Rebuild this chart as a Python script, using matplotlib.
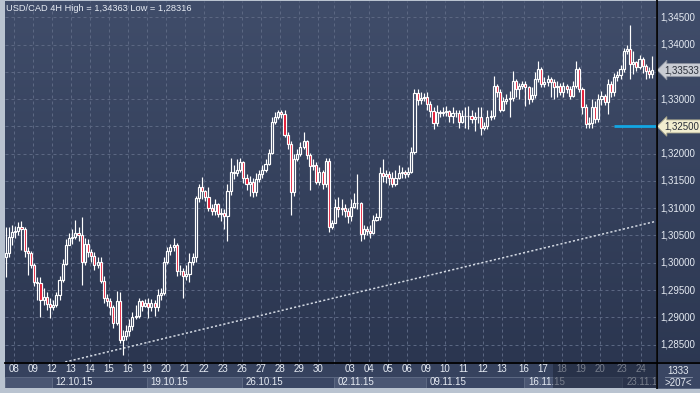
import numpy as np
import matplotlib
matplotlib.use("Agg")
import matplotlib.pyplot as plt
from matplotlib.colors import LinearSegmentedColormap
from matplotlib.patches import Rectangle

plt.rcParams['font.family'] = ['Liberation Sans', 'DejaVu Sans']

# ---- values (USD/CAD, 4H bars) ----
first_open = 1.3011
closes = [
    1.3017, 1.3048, 1.3057, 1.3059, 1.3065, 1.3061, 1.3021, 1.3017, 1.2996, 1.2965,
    1.2962, 1.2931, 1.2938, 1.2925, 1.2919, 1.2923, 1.2940, 1.2969, 1.2998, 1.3033,
    1.3045, 1.3048, 1.3054, 1.3050, 1.3002, 1.3035, 1.3019, 1.3013, 1.2996, 1.3002,
    1.2967, 1.2936, 1.2929, 1.2918, 1.2890, 1.2929, 1.2859, 1.2866, 1.2875, 1.2884,
    1.2901, 1.2903, 1.2929, 1.2921, 1.2927, 1.2919, 1.2927, 1.2918, 1.2940, 1.2945,
    1.3002, 1.3021, 1.3028, 1.3033, 1.2984, 1.2985, 1.2975, 1.2980, 1.3002, 1.3010,
    1.3118, 1.3138, 1.3131, 1.3121, 1.3101, 1.3094, 1.3107, 1.3090, 1.3092, 1.3085,
    1.3131, 1.3167, 1.3164, 1.3171, 1.3184, 1.3156, 1.3144, 1.3149, 1.3129, 1.3153,
    1.3162, 1.3171, 1.3182, 1.3202, 1.3259, 1.3267, 1.3276, 1.3272, 1.3235, 1.3217,
    1.3129, 1.3190, 1.3199, 1.3212, 1.3223, 1.3197, 1.3177, 1.3179, 1.3149, 1.3167,
    1.3144, 1.3186, 1.3066, 1.3072, 1.3103, 1.3098, 1.3101, 1.3094, 1.3085, 1.3103,
    1.3110, 1.3109, 1.3052, 1.3061, 1.3059, 1.3055, 1.3079, 1.3083, 1.3164, 1.3160,
    1.3162, 1.3156, 1.3145, 1.3156, 1.3164, 1.3166, 1.3162, 1.3167, 1.3204, 1.3311,
    1.3298, 1.3302, 1.3304, 1.3291, 1.3278, 1.3256, 1.3276, 1.3274, 1.3276, 1.3278,
    1.3269, 1.3274, 1.3274, 1.3259, 1.3269, 1.3270, 1.3269, 1.3263, 1.3267, 1.3267,
    1.3247, 1.3250, 1.3267, 1.3269, 1.3324, 1.3313, 1.3281, 1.3296, 1.3300, 1.3302,
    1.3333, 1.3318, 1.3324, 1.3327, 1.3322, 1.3300, 1.3307, 1.3337, 1.3355, 1.3327,
    1.3331, 1.3337, 1.3331, 1.3322, 1.3325, 1.3313, 1.3324, 1.3318, 1.3305, 1.3324,
    1.3355, 1.3318, 1.3285, 1.3254, 1.3256, 1.3285, 1.3263, 1.3300, 1.3305, 1.3294,
    1.3327, 1.3313, 1.3340, 1.3344, 1.3355, 1.3388, 1.3392, 1.3364, 1.3368, 1.3359,
    1.3373, 1.3360, 1.3351, 1.3346, 1.33533,
]
highs = [
    1.3065, 1.3065, 1.3070, 1.3068, 1.3074, 1.3076, 1.3065, 1.3028, 1.3021, 1.3000,
    1.2973, 1.2973, 1.2954, 1.2947, 1.2936, 1.2932, 1.2947, 1.2976, 1.3006, 1.3043,
    1.3054, 1.3061, 1.3079, 1.3065, 1.3083, 1.3046, 1.3043, 1.3026, 1.3019, 1.3011,
    1.3010, 1.2975, 1.2943, 1.2936, 1.2923, 1.2949, 1.2947, 1.2877, 1.2886, 1.2896,
    1.2910, 1.2923, 1.2936, 1.2932, 1.2934, 1.2936, 1.2934, 1.2931, 1.2951, 1.2954,
    1.3010, 1.3028, 1.3035, 1.3046, 1.3037, 1.2995, 1.2991, 1.2996, 1.3017, 1.3017,
    1.3123, 1.3144, 1.3158, 1.3134, 1.3138, 1.3107, 1.3116, 1.3109, 1.3101, 1.3098,
    1.3144, 1.3193, 1.3180, 1.3190, 1.3193, 1.3186, 1.3162, 1.3160, 1.3155, 1.3164,
    1.3171, 1.3179, 1.3190, 1.3208, 1.3267, 1.3276, 1.3281, 1.3281, 1.3280, 1.3239,
    1.3223, 1.3199, 1.3208, 1.3221, 1.3239, 1.3226, 1.3202, 1.3190, 1.3184, 1.3175,
    1.3171, 1.3193, 1.3193, 1.3079, 1.3116, 1.3120, 1.3116, 1.3107, 1.3101, 1.3116,
    1.3127, 1.3162, 1.3112, 1.3070, 1.3068, 1.3070, 1.3088, 1.3092, 1.3175, 1.3190,
    1.3171, 1.3169, 1.3167, 1.3171, 1.3179, 1.3175, 1.3171, 1.3175, 1.3212, 1.3318,
    1.3318, 1.3313, 1.3311, 1.3313, 1.3296, 1.3285, 1.3289, 1.3281, 1.3285, 1.3287,
    1.3281, 1.3285, 1.3281, 1.3280, 1.3281, 1.3285, 1.3287, 1.3281, 1.3276, 1.3285,
    1.3285, 1.3259, 1.3281, 1.3281, 1.3342, 1.3327, 1.3318, 1.3304, 1.3309, 1.3315,
    1.3351, 1.3337, 1.3329, 1.3333, 1.3333, 1.3325, 1.3322, 1.3349, 1.3370, 1.3359,
    1.3340, 1.3344, 1.3340, 1.3337, 1.3333, 1.3329, 1.3331, 1.3327, 1.3325, 1.3333,
    1.3370, 1.3359, 1.3322, 1.3291, 1.3267, 1.3300, 1.3296, 1.3309, 1.3315, 1.3309,
    1.3337, 1.3333, 1.3348, 1.3351, 1.3362, 1.3394, 1.3399, 1.34363, 1.3388, 1.3370,
    1.3381, 1.3377, 1.3364, 1.3359, 1.3379,
]
lows = [
    1.2973, 1.3011, 1.3033, 1.3046, 1.3050, 1.3024, 1.3010, 1.2978, 1.2991, 1.2958,
    1.2932, 1.2901, 1.2923, 1.2914, 1.2899, 1.2914, 1.2918, 1.2932, 1.2964, 1.2995,
    1.3032, 1.3035, 1.3043, 1.3039, 1.2960, 1.2995, 1.3011, 1.3002, 1.2987, 1.2991,
    1.2962, 1.2927, 1.2921, 1.2905, 1.2881, 1.2886, 1.2853, 1.28316, 1.2859, 1.2866,
    1.2877, 1.2896, 1.2899, 1.2912, 1.2918, 1.2899, 1.2912, 1.2903, 1.2912, 1.2932,
    1.2941, 1.2998, 1.3015, 1.3021, 1.2976, 1.2978, 1.2936, 1.2969, 1.2965, 1.2996,
    1.3002, 1.3112, 1.3116, 1.3114, 1.3094, 1.3087, 1.3088, 1.3083, 1.3076, 1.3061,
    1.3039, 1.3125, 1.3153, 1.3160, 1.3167, 1.3147, 1.3134, 1.3123, 1.3121, 1.3123,
    1.3149, 1.3156, 1.3167, 1.3179, 1.3199, 1.3254, 1.3263, 1.3265, 1.3230, 1.3208,
    1.3088, 1.3123, 1.3186, 1.3195, 1.3208, 1.3190, 1.3134, 1.3171, 1.3144, 1.3142,
    1.3136, 1.3138, 1.3057, 1.3061, 1.3094, 1.3083, 1.3088, 1.3083, 1.3072, 1.3076,
    1.3101, 1.3099, 1.3039, 1.3043, 1.3050, 1.3046, 1.3052, 1.3076, 1.3079, 1.3149,
    1.3147, 1.3142, 1.3138, 1.3140, 1.3153, 1.3156, 1.3155, 1.3158, 1.3164, 1.3199,
    1.3289, 1.3292, 1.3296, 1.3281, 1.3267, 1.3245, 1.3250, 1.3267, 1.3269, 1.3270,
    1.3259, 1.3256, 1.3267, 1.3248, 1.3256, 1.3248, 1.3245, 1.3256, 1.3241, 1.3256,
    1.3235, 1.3243, 1.3245, 1.3261, 1.3263, 1.3304, 1.3276, 1.3278, 1.3291, 1.3267,
    1.3296, 1.3304, 1.3300, 1.3318, 1.3287, 1.3291, 1.3294, 1.3302, 1.3331, 1.3322,
    1.3322, 1.3325, 1.3304, 1.3300, 1.3304, 1.3307, 1.3304, 1.3311, 1.3300, 1.3304,
    1.3320, 1.3313, 1.3272, 1.3248, 1.3248, 1.3248, 1.3256, 1.3259, 1.3289, 1.3289,
    1.3272, 1.3304, 1.3305, 1.3333, 1.3337, 1.3349, 1.3383, 1.3337, 1.3346, 1.3351,
    1.3355, 1.3348, 1.3337, 1.3338, 1.3338,
]

day_labels = ['08', '09', '12', '13', '14', '15', '16', '19', '20', '21', '22', '23',
              '26', '27', '28', '29', '30', '', '03', '04', '05', '06', '09', '10',
              '11', '12', '13', '16', '17', '18', '19', '20', '23', '24']
day_start = [3, 9, 15, 21, 27, 33, 39, 45, 51, 57, 63, 69, 75, 81, 87, 93, 99, 104,
             109, 115, 121, 127, 133, 139, 145, 151, 157, 164, 170, 176, 182, 188, 195, 201]
week_labels = ['12.10.15', '19.10.15', '26.10.15', '02.11.15', '09.11.15', '16.11.15', '23.11.15']
week_start = [15, 45, 75, 104, 133, 164, 195]

price_ticks = [1.285, 1.290, 1.295, 1.300, 1.305, 1.310, 1.315,
               1.320, 1.325, 1.330, 1.335, 1.340, 1.345]
last_price = 1.33533
alert_level = 1.325
alert_from_bar = 192
trend_bars = [18.8, 205.2]
trend_prices = [1.2818, 1.3076]
title = "USD/CAD 4H High = 1,34363 Low = 1,28316"
info_lines = ["1333", ">207<"]
dimmed_from_bar = 172.8

opens = [first_open] + closes[:-1]

W, H = 700, 393
XMIN, XMAX = -0.2, 205.2
YMIN, YMAX = 1.2818, 1.3480
TXT = '#e6ebf3'
FS = 6.7
FS_AXIS = 7.0


def px(x0, y0, x1, y1):
    return [x0 / W, 1 - y1 / H, (x1 - x0) / W, (y1 - y0) / H]


fig = plt.figure(figsize=(W / 100, H / 100), dpi=100)
fig.patch.set_facecolor('#b9c3d0')
bg = LinearSegmentedColormap.from_list('bg', ['#404d6a', '#2b3650'])
grad = np.linspace(0, 1, 256).reshape(-1, 1)

# chrome behind everything (pixel coordinates)
ov = fig.add_axes([0, 0, 1, 1], zorder=0)
ov.axis('off')
ov.imshow(grad, extent=(657, 700, 388, 1), cmap=bg, aspect='auto')
ov.add_patch(Rectangle((5, 362), 651, 26, fc='#36425e', ec='none'))
ov.add_patch(Rectangle((657, 362), 43, 26, fc='#3a4663', ec='#5a6680', lw=0.7))
ov.plot([665, 692], [376.8, 376.8], color='#8792a8', lw=0.6)
ov.text(678.5, 370.5, info_lines[0], color=TXT, fontsize=FS_AXIS, ha='center', va='center')
ov.text(678.5, 383.5, info_lines[1], color=TXT, fontsize=FS_AXIS, ha='center', va='center')
ov.set_xlim(0, W)
ov.set_ylim(H, 0)

# main price panel
ax = fig.add_axes(px(5, 1, 656, 362), zorder=2)
ax.imshow(grad, extent=(XMIN, XMAX, YMIN, YMAX), cmap=bg, aspect='auto', zorder=0)
ax.set_xlim(XMIN, XMAX)
ax.set_ylim(YMIN, YMAX)
ax.axis('off')

grid_kw = dict(color='#5b6782', lw=0.72, ls=(0, (3, 3)), zorder=1)
ax.hlines(price_ticks, XMIN, XMAX, **grid_kw)
ax.vlines(np.array(day_start) - 0.5, YMIN, YMAX, **grid_kw)

ax.plot(trend_bars, trend_prices, color='#d3d9e3', lw=1.1, ls=(0, (1.4, 1.4)), zorder=2)

w = 0.66
for i, (o, h, l, c) in enumerate(zip(opens, highs, lows, closes)):
    top, bot = max(o, c), min(o, c)
    ax.vlines(i, top, max(h, top), color='white', lw=0.85, zorder=3)
    ax.vlines(i, min(l, bot), bot, color='white', lw=0.85, zorder=3)
    fc = '#e3102d' if c < o else 'none'
    ax.add_patch(Rectangle((i - w / 2, bot), w, max(top - bot, 1e-6),
                           fc=fc, ec='white', lw=0.85, zorder=4))

ax.hlines(alert_level, alert_from_bar, XMAX, color='#12a6e4', lw=2.0, zorder=5)

fig.text(6 / W, 1 - 8.5 / H, title, color=TXT, fontsize=FS, ha='left', va='center')

# price scale on the right
ytr = ax.get_yaxis_transform()
for p in price_ticks:
    if abs(p - last_price) < 0.001 or abs(p - alert_level) < 1e-9:
        continue
    ax.text(1.0 + 4 / 651, p, f"{p:.5f}".replace('.', ','), transform=ytr,
            color=TXT, fontsize=FS_AXIS, ha='left', va='center', clip_on=False)
ax.text(1.0 + 8 / 651, last_price, f"{last_price:.5f}".replace('.', ','), transform=ytr,
        color='#2a2f3a', fontsize=FS_AXIS, ha='left', va='center', clip_on=False, zorder=6,
        bbox=dict(boxstyle='larrow,pad=0.16', fc='#c9ccd3', ec='#8d93a0', lw=0.6))
ax.text(1.0 + 8 / 651, alert_level, f"{alert_level:.5f}".replace('.', ','), transform=ytr,
        color='#2a2f3a', fontsize=FS_AXIS, ha='left', va='center', clip_on=False, zorder=6,
        bbox=dict(boxstyle='larrow,pad=0.16', fc='#f1edcf', ec='#a9a68c', lw=0.6))

# time scale at the bottom
axb = fig.add_axes(px(5, 362, 656, 388), zorder=3)
axb.set_xlim(XMIN, XMAX)
axb.set_ylim(0, 26)
axb.axis('off')
edges = [XMIN] + [s - 0.5 for s in week_start] + [XMAX]
for k in range(len(edges) - 1):
    fc = '#4a5673' if k % 2 == 0 else '#3a4664'
    axb.add_patch(Rectangle((edges[k], 0.5), edges[k + 1] - edges[k], 11,
                            fc=fc, ec='#5d6983', lw=0.7))
for s, lbl in zip(week_start, week_labels):
    axb.text(s - 0.5 + 1.3, 6, lbl, color=TXT, fontsize=FS_AXIS, ha='left', va='center', clip_on=True)
for s, lbl in zip(day_start, day_labels):
    axb.text(s - 0.5, 19, lbl, color=TXT, fontsize=FS_AXIS, ha='center', va='center')
axb.vlines(np.array(day_start) - 0.5, 24, 26, color='#59657f', lw=0.7)
axb.add_patch(Rectangle((dimmed_from_bar, 0), XMAX - dimmed_from_bar, 26,
                        fc='#1d2538', alpha=0.55, ec='none', zorder=10))

# separators
fr = fig.add_axes([0, 0, 1, 1], zorder=6)
fr.set_xlim(0, W)
fr.set_ylim(H, 0)
fr.axis('off')
fr.plot([5, 700], [362.5, 362.5], color='black', lw=1.3)
fr.plot([656.5, 656.5], [0, 388], color='black', lw=1.3)

fig.savefig('out.png', dpi=100, facecolor=fig.get_facecolor())
